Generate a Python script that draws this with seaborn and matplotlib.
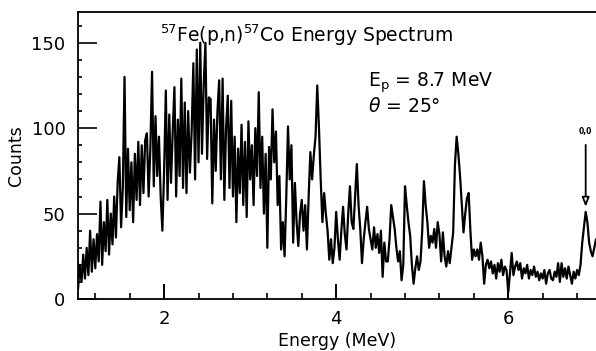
#!/usr/bin/env python3

# 57Fe(p,n)57Co neutron energy spectrum, redrawn from the scanned figure.

from matplotlib.ticker import MultipleLocator
import matplotlib.pylab as plt
import numpy as np
import seaborn as sns

# channel grid: 1.00 .. 7.02 MeV in 0.02 MeV steps
e_start = 1.0
e_step = 0.02

# counts, one row per 0.2 MeV
counts = [
    6, 20, 10, 26, 12, 30, 14, 40, 16, 35,  # 1.00
    18, 38, 22, 57, 20, 45, 28, 58, 26, 50,  # 1.20
    32, 60, 36, 68, 83, 42, 65, 130, 48, 88,  # 1.40
    52, 80, 45, 85, 58, 92, 55, 90, 62, 93,  # 1.60
    97, 60, 88, 133, 66, 107, 72, 95, 60, 40,  # 1.80
    75, 122, 58, 108, 68, 98, 124, 60, 105, 72,  # 2.00
    129, 65, 115, 62, 110, 74, 98, 138, 70, 146,  # 2.20
    80, 150, 85, 125, 150, 82, 118, 117, 56, 105,  # 2.40
    75, 110, 128, 70, 129, 58, 100, 119, 65, 116,  # 2.60
    60, 95, 45, 88, 62, 102, 55, 92, 48, 104,  # 2.80
    70, 90, 55, 100, 72, 121, 65, 95, 50, 85,  # 3.00
    30, 89, 70, 111, 80, 98, 55, 72, 29, 45,  # 3.20
    25, 60, 101, 70, 90, 33, 68, 45, 31, 50,  # 3.40
    58, 40, 55, 29, 60, 86, 70, 84, 95, 125,  # 3.60
    100, 70, 45, 62, 50, 40, 23, 35, 21, 30,  # 3.80
    51, 35, 23, 40, 54, 38, 29, 50, 66, 45,  # 4.00
    41, 60, 79, 55, 41, 21, 35, 45, 54, 41,  # 4.20
    35, 29, 42, 30, 38, 27, 40, 13, 33, 22,  # 4.40
    22, 35, 55, 48, 41, 30, 22, 28, 11, 20,  # 4.60
    66, 55, 45, 37, 20, 9, 18, 25, 17, 22,  # 4.80
    40, 69, 55, 45, 30, 37, 33, 41, 30, 45,  # 5.00
    38, 22, 39, 25, 19, 28, 21, 30, 39, 78,  # 5.20
    95, 85, 72, 55, 39, 50, 59, 62, 40, 23,  # 5.40
    29, 25, 29, 23, 33, 25, 9, 20, 23, 18,  # 5.60
    22, 15, 20, 12, 21, 16, 23, 14, 19, 17,  # 5.80
    4, 15, 27, 14, 19, 22, 17, 21, 12, 18,  # 6.00
    15, 20, 12, 17, 14, 19, 13, 16, 11, 15,  # 6.20
    12, 17, 9, 15, 17, 12, 11, 16, 13, 21,  # 6.40
    10, 21, 13, 18, 12, 19, 14, 9, 16, 12,  # 6.60
    17, 14, 20, 33, 42, 51, 45, 33, 28, 25,  # 6.80
    30, 35,  # 7.00
]
energy = np.round(e_start + e_step * np.arange(len(counts)), 2)

# ground state marker
gs_energy = 6.90
gs_label = "0,0"

title = r"$^{57}$Fe(p,n)$^{57}$Co Energy Spectrum"
beam_text = r"E$_{\rm p}$ = 8.7 MeV"
angle_text = r"$\theta$ = 25°"

sns.set_theme(
    style="ticks",
    rc={
        "text.color": "black",
        "axes.labelcolor": "black",
        "xtick.color": "black",
        "ytick.color": "black",
        "axes.edgecolor": "black",
    },
)
plt.rcParams["font.family"] = ["DejaVu Sans"]

fig = plt.figure(figsize=(5.96, 3.51), dpi=100)
ax = fig.add_axes([0.131, 0.148, 0.869, 0.818])

sns.lineplot(x=energy, y=counts, ax=ax, color="black", linewidth=1.6)

ax.set_xlim(1.0, 7.02)
ax.set_ylim(0, 168)

ax.xaxis.set_major_locator(MultipleLocator(2))
ax.xaxis.set_minor_locator(MultipleLocator(0.4))
ax.yaxis.set_major_locator(MultipleLocator(50))
ax.yaxis.set_minor_locator(MultipleLocator(10))

ax.tick_params(axis="x", which="major", direction="in", length=11, width=1.4,
               pad=8, labelsize=13)
ax.tick_params(axis="x", which="minor", direction="in", length=4, width=1.2)
ax.tick_params(axis="y", which="major", direction="in", length=14, width=1.2,
               pad=9, labelsize=13)
ax.tick_params(axis="y", which="minor", direction="in", length=3, width=1.2)

for side in ["left", "bottom", "top"]:
    ax.spines[side].set_linewidth(1.3)
ax.spines["right"].set_visible(False)

ax.set_xlabel("Energy (MeV)", fontsize=12.5, labelpad=3)
ax.set_ylabel("Counts", fontsize=12.5, labelpad=5)

ax.text(0.158, 0.895, title, transform=ax.transAxes, fontsize=13.5,
        va="baseline", ha="left")
ax.text(0.56, 0.739, beam_text, transform=ax.transAxes, fontsize=13.5,
        va="baseline", ha="left")
ax.text(0.56, 0.652, angle_text, transform=ax.transAxes, fontsize=13.5,
        va="baseline", ha="left")

gs_count = counts[list(energy).index(gs_energy)]
ax.annotate(
    gs_label,
    xy=(gs_energy, gs_count + 3),
    xytext=(gs_energy, 98),
    ha="center",
    va="center",
    fontsize=5.5,
    fontweight="bold",
    arrowprops=dict(arrowstyle="-|>,head_length=1.0,head_width=0.4",
                    fc="white", ec="black", lw=1.3, shrinkA=4, shrinkB=0),
)

plt.savefig("out.png", dpi=100)
plt.clf()
